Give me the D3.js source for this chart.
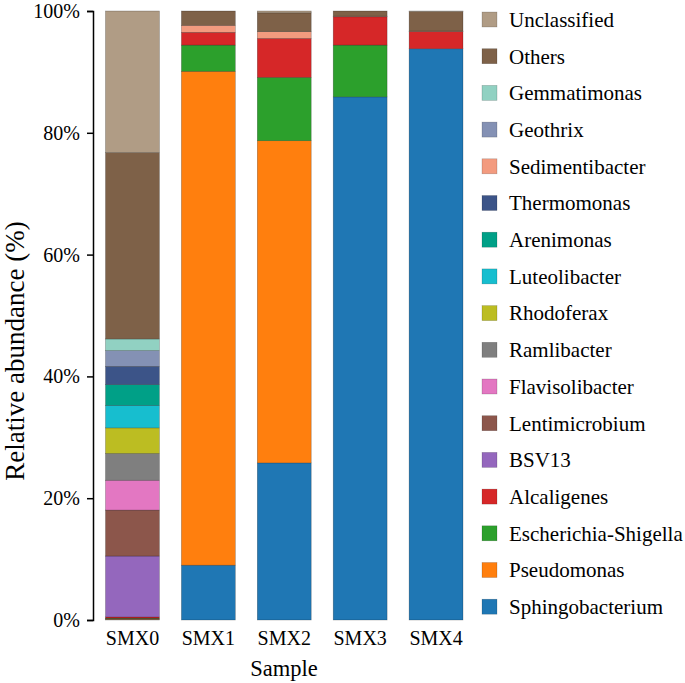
<!DOCTYPE html>
<html>
<head>
<meta charset="utf-8">
<script src="https://cdn.jsdelivr.net/npm/d3@7/dist/d3.min.js"></script>
<style>
  html, body { margin: 0; padding: 0; background: #fff; }
</style>
</head>
<body>
<svg id="chart" width="685" height="683"></svg>
<script>
// ---- Data ----
const samples = ["SMX0", "SMX1", "SMX2", "SMX3", "SMX4"];
// stack order: bottom -> top
const genera = ["Sphingobacterium", "Pseudomonas", "Escherichia-Shigella", "Alcaligenes", "BSV13",
  "Lentimicrobium", "Flavisolibacter", "Ramlibacter", "Rhodoferax", "Luteolibacter", "Arenimonas",
  "Thermomonas", "Sedimentibacter", "Geothrix", "Gemmatimonas", "Others", "Unclassified"];
const Sphingobacterium   = [0.1, 9.0, 25.8, 85.9, 93.8];
const Pseudomonas        = [0.1, 81.1, 52.9, 0, 0];
const EscherichiaShigella= [0.1, 4.3, 10.4, 8.5, 0];
const Alcaligenes        = [0.2, 2.1, 6.4, 4.65, 2.8];
const BSV13              = [10.0, 0, 0, 0, 0];
const Lentimicrobium     = [7.55, 0, 0, 0, 0];
const Flavisolibacter    = [4.9, 0, 0, 0, 0];
const Ramlibacter        = [4.4, 0, 0, 0, 0];
const Rhodoferax         = [4.2, 0, 0, 0, 0];
const Luteolibacter      = [3.7, 0, 0, 0, 0];
const Arenimonas         = [3.4, 0, 0, 0, 0];
const Thermomonas        = [3.0, 0, 0, 0, 0];
const Sedimentibacter    = [0, 1.15, 1.1, 0.1, 0.1];
const Geothrix           = [2.6, 0, 0, 0, 0];
const Gemmatimonas       = [1.9, 0, 0, 0, 0];
const Others             = [30.6, 2.35, 3.1, 0.85, 3.2];
const Unclassified       = [23.25, 0, 0.3, 0, 0.1];
const seriesValues = [Sphingobacterium, Pseudomonas, EscherichiaShigella, Alcaligenes, BSV13,
  Lentimicrobium, Flavisolibacter, Ramlibacter, Rhodoferax, Luteolibacter, Arenimonas,
  Thermomonas, Sedimentibacter, Geothrix, Gemmatimonas, Others, Unclassified];
const colors = ["#1F77B4", "#FF7F0E", "#2CA02C", "#D62728", "#9467BD", "#8C564B", "#E377C2",
  "#7F7F7F", "#BCBD22", "#17BECF", "#00A087", "#3C5488", "#F39B7F", "#8491B4", "#91D1C2",
  "#7E6148", "#B09C85"];
const yTicks = [0, 20, 40, 60, 80, 100];
const yTickLabels = ["0%", "20%", "40%", "60%", "80%", "100%"];

const FONT = '"Liberation Serif", "Times New Roman", Tinos, serif';

// ---- Build table ----
const table = samples.map((s, i) => {
  const row = { sample: s };
  genera.forEach((g, j) => { row[g] = seriesValues[j][i]; });
  return row;
});
const stacked = d3.stack().keys(genera)(table);

const svg = d3.select("#chart");
const x = d3.scaleBand().domain(samples).range([94.5, 474]).paddingInner(0.29).paddingOuter(0.145);
const y = d3.scaleLinear().domain([0, 100]).range([620, 11]);
const color = d3.scaleOrdinal().domain(genera).range(colors);

// bars
svg.append("g").selectAll("g").data(stacked).join("g")
  .attr("fill", d => color(d.key))
  .selectAll("rect").data(d => d).join("rect")
  .attr("x", d => x(d.data.sample))
  .attr("width", x.bandwidth())
  .attr("y", d => y(d[1]))
  .attr("height", d => Math.max(0, y(d[0]) - y(d[1])))
  .attr("stroke", "rgba(0,0,0,0.35)")
  .attr("stroke-width", 0.6);

// y axis
const yAxis = d3.axisLeft(y).tickValues(yTicks).tickFormat((d, i) => yTickLabels[i])
  .tickSize(6).tickPadding(7);
const ya = svg.append("g").attr("transform", "translate(93,0)").call(yAxis);
ya.select(".domain").attr("stroke", "#000").attr("stroke-width", 1.5);
ya.selectAll(".tick line").attr("stroke", "#000").attr("stroke-width", 1.5);
ya.selectAll(".tick text").attr("font-size", 20).attr("fill", "#000")
  .style("font-family", FONT);

// x labels
const xAxis = d3.axisBottom(x).tickSize(0).tickPadding(0);
const xa = svg.append("g").attr("transform", "translate(0,630)").call(xAxis);
xa.select(".domain").remove();
xa.selectAll(".tick text").attr("font-size", 20).attr("fill", "#000").attr("dy", "0.75em")
  .style("font-family", FONT);

// axis titles
svg.append("text").attr("x", 284).attr("y", 676).attr("text-anchor", "middle")
  .attr("font-size", 22.5).attr("fill", "#000").style("font-family", FONT).text("Sample");
svg.append("text").attr("transform", "translate(24,351) rotate(-90)").attr("text-anchor", "middle")
  .attr("font-size", 27).attr("fill", "#000").style("font-family", FONT).text("Relative abundance (%)");

// legend
const legendItems = genera.slice().reverse();
const lg = svg.append("g").selectAll("g").data(legendItems).join("g")
  .attr("transform", (d, i) => `translate(482,${19.5 + i * 36.7})`);
lg.append("rect").attr("x", 0).attr("y", -7.5).attr("width", 15).attr("height", 15)
  .attr("fill", d => color(d)).attr("stroke", "rgba(0,0,0,0.25)").attr("stroke-width", 0.6);
lg.append("text").attr("x", 27).attr("y", 0).attr("dy", "0.35em")
  .attr("font-size", 21).attr("fill", "#000").style("font-family", FONT).text(d => d);
</script>
</body>
</html>
